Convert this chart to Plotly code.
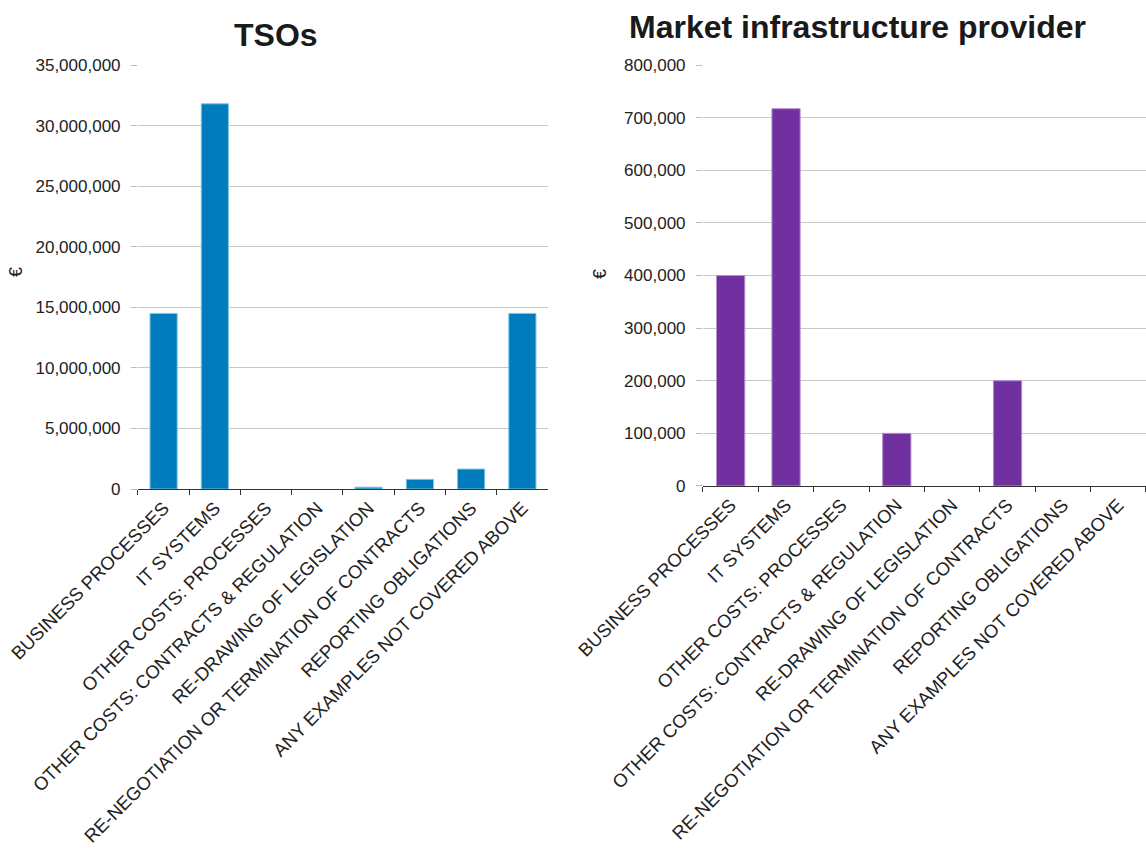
import plotly.graph_objects as go

categories = [
    "BUSINESS PROCESSES",
    "IT SYSTEMS",
    "OTHER COSTS: PROCESSES",
    "OTHER COSTS: CONTRACTS & REGULATION",
    "RE-DRAWING OF LEGISLATION",
    "RE-NEGOTIATION OR TERMINATION OF CONTRACTS",
    "REPORTING OBLIGATIONS",
    "ANY EXAMPLES NOT COVERED ABOVE",
]
tso_costs = [14500000, 31800000, 0, 0, 150000, 800000, 1650000, 14500000]
mip_costs = [400000, 717000, 0, 100000, 0, 200000, 0, 0]

tso_title = "TSOs"
mip_title = "Market infrastructure provider"
y_label = "€"

FONT = "Liberation Sans, Arial, sans-serif"
TEXT = "#222222"
GRID = "#c8c8c8"


def outline(values):
    # thin light edge only around bars that actually have height
    return [1 if v > 0 else 0 for v in values]


fig = go.Figure()
fig.add_trace(go.Bar(
    x=categories, y=tso_costs, xaxis="x", yaxis="y",
    marker=dict(color="#007BBB", line=dict(color="#7fc3e6", width=outline(tso_costs))),
    width=0.53, showlegend=False,
))
fig.add_trace(go.Bar(
    x=categories, y=mip_costs, xaxis="x2", yaxis="y2",
    marker=dict(color="#7030A0", line=dict(color="#b48fd0", width=outline(mip_costs))),
    width=0.51, showlegend=False,
))

xcommon = dict(
    type="category", showline=True, linecolor="#333333", linewidth=1,
    ticks="outside", tickson="boundaries", ticklen=5, tickcolor="#333333",
    tickangle=-45, tickfont=dict(family=FONT, size=18.5, color=TEXT),
    showgrid=False, zeroline=False, fixedrange=True, automargin=False,
)
ycommon = dict(
    showline=False, showgrid=True, gridcolor=GRID, gridwidth=1,
    ticks="outside", ticklen=6, tickcolor="#bbbbbb", ticklabelstandoff=7,
    tickformat=",", tickfont=dict(family=FONT, size=17, color=TEXT),
    zeroline=False, fixedrange=True, automargin=False,
)

fig.update_layout(
    width=1146, height=848,
    margin=dict(l=0, r=0, t=0, b=0),
    paper_bgcolor="white", plot_bgcolor="white",
    xaxis=dict(domain=[0.1204, 0.4782], anchor="y", **xcommon),
    yaxis=dict(domain=[0.4233, 0.9233], anchor="x", range=[0, 35000000],
               dtick=5000000, **ycommon),
    xaxis2=dict(domain=[0.6134, 1.0], anchor="y2", **xcommon),
    yaxis2=dict(domain=[0.4269, 0.9233], anchor="x2", range=[0, 800000],
                dtick=100000, **ycommon),
)

# titles and axis labels placed in pixel terms (from left / top of the page)
W, H = 1146, 848


def px(x, y):
    return x / W, 1 - y / H


texts = [
    (f"<b>{tso_title}</b>", 276, 35, 32, 0),
    (f"<b>{mip_title}</b>", 857, 27, 32, 0),
    (y_label, 16, 272, 18, -90),
    (y_label, 600, 274, 18, -90),
]
for t, x, y, size, ang in texts:
    ax, ay = px(x, y)
    fig.add_annotation(
        text=t, x=ax, y=ay, xref="paper", yref="paper",
        xanchor="center", yanchor="middle", showarrow=False, textangle=ang,
        font=dict(family=FONT, size=size, color="#1a1a1a"),
    )

fig.write_html("out.html")
